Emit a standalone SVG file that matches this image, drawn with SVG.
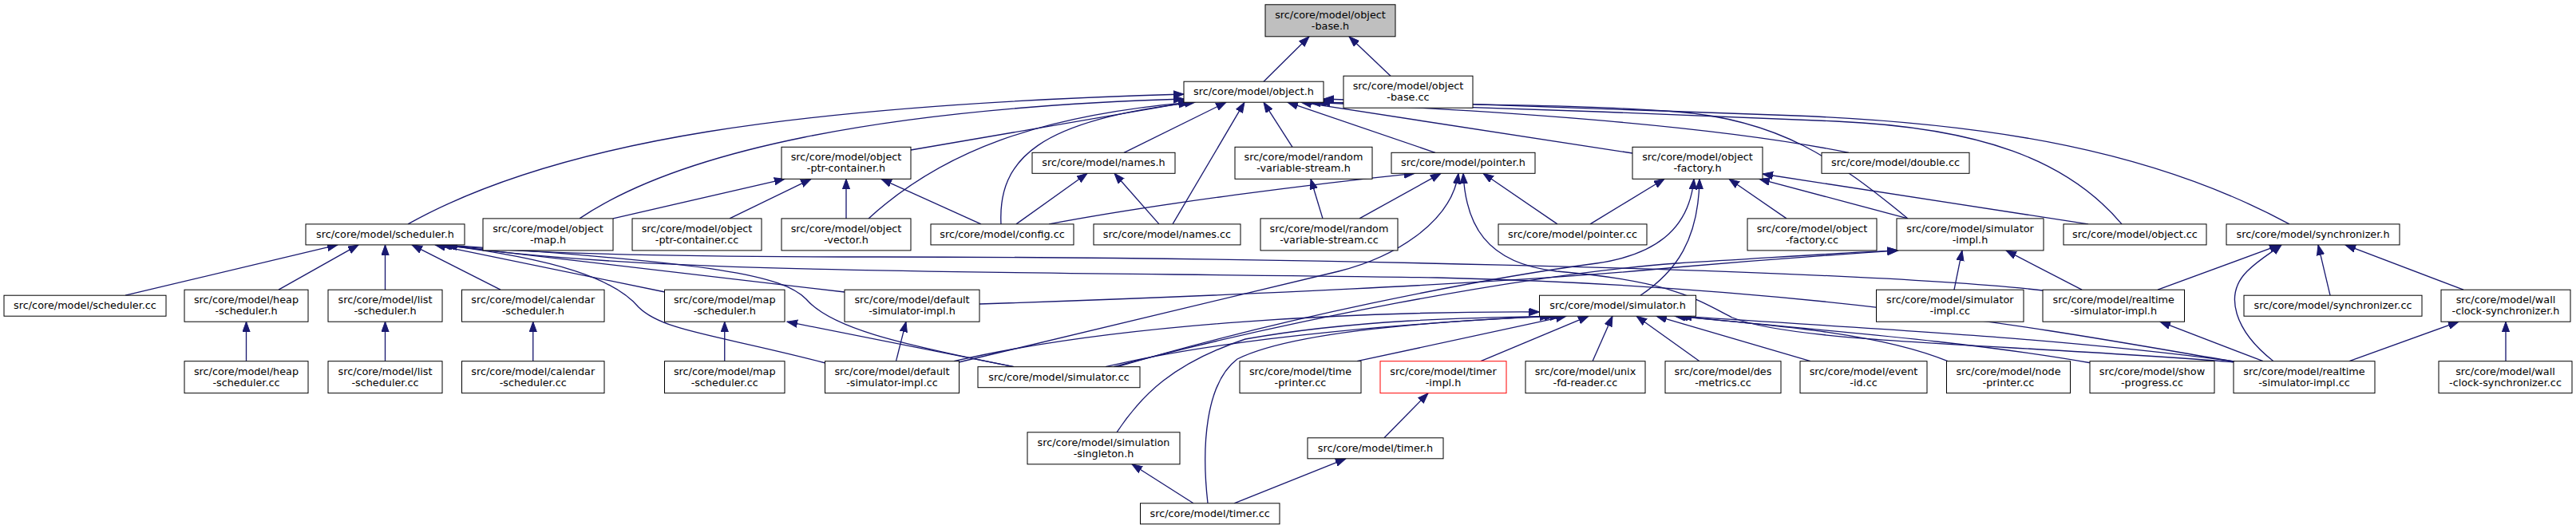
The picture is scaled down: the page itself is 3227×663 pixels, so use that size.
<svg xmlns="http://www.w3.org/2000/svg" width="3227" height="663" viewBox="0 0 3227 663">
<defs>
<style>
.n rect{fill:#ffffff;stroke:#000000;stroke-width:1}
.n text{font-family:"DejaVu Sans","Liberation Sans",sans-serif;font-size:12.8px;text-anchor:middle;fill:#000000}
.root rect{fill:#bfbfbf}
.trunc rect{stroke:#ff0000}
.e path{fill:none;stroke:#191970;stroke-width:1.33;marker-end:url(#ah)}
</style>
<marker id="ah" markerUnits="userSpaceOnUse" markerWidth="15" markerHeight="11" refX="13" refY="5" orient="auto">
<path d="M0,0.3 L13,5 L0,9.7 z" fill="#191970" stroke="#191970" stroke-width="1"/>
</marker>
</defs>
<rect x="0" y="0" width="3227" height="663" fill="#ffffff"/>
<g id="edges" class="e">
<path d="M1583,102.2 L1640,45.8"/>
<path d="M1742,95.2 L1690,45.8"/>
<path d="M511,280.9 C700,175 1000,132 1483,118"/>
<path d="M726,273.9 C850,190 1100,136 1483,124"/>
<path d="M1141,188 L1489,128.2"/>
<path d="M1088,273.9 C1180,190 1300,145 1492,128.2"/>
<path d="M1254,280.9 C1250,200 1300,150 1497,128.2"/>
<path d="M1408,191.3 L1536,128.2"/>
<path d="M1469,280.9 L1559,128.2"/>
<path d="M1619,184.3 L1583,128.2"/>
<path d="M1798,191.3 L1613,128.2"/>
<path d="M2045,192 L1630,128.2"/>
<path d="M2316,191.3 C2150,158 1900,140 1641,128.2"/>
<path d="M2390,273.9 C2300,200 2230,150 2100,140 S1750,130 1648,128.2"/>
<path d="M2658,280.9 C2590,200 2480,160 2300,152 S1800,132 1653,128.2"/>
<path d="M2868,280.9 C2700,190 2500,155 2250,145 S1800,128 1658,124"/>
<path d="M768,273.9 L983,224.3"/>
<path d="M914,273.9 L1016,224.3"/>
<path d="M1060,273.9 L1060,224.3"/>
<path d="M1229,280.9 L1104,224.3"/>
<path d="M1273,280.9 L1362,217.3"/>
<path d="M1452,280.9 L1396,217.3"/>
<path d="M1657,273.9 L1642,224.3"/>
<path d="M1314,280.9 C1450,255 1650,230 1772,217.3"/>
<path d="M1703,273.9 L1805,217.3"/>
<path d="M1951,280.9 L1858,217.3"/>
<path d="M1201,454 L1677,340 C1745,323 1818,280 1827,217.3"/>
<path d="M2800,454 C2500,430 2250,430 2170,398 C2120,372 2090,352 1950,340 C1860,330 1836,280 1833,217.3"/>
<path d="M1992,280.9 L2085,224.3"/>
<path d="M2238,273.9 L2166,224.3"/>
<path d="M2390,273.9 L2204,224.3"/>
<path d="M2616,280.9 L2208,218"/>
<path d="M2055,370.2 C2100,340 2128,300 2129,224.3"/>
<path d="M1400,459.7 C1600,400 1850,350 2000,330 C2070,320 2116,290 2122,224.3"/>
<path d="M157,370.2 L423,306.9"/>
<path d="M349,363.2 L449,306.9"/>
<path d="M482.5,363.2 L482.5,306.9"/>
<path d="M627,363.2 L516,306.9"/>
<path d="M833,366 L545,306.9"/>
<path d="M1058,366 L552,306.9"/>
<path d="M1270,459.7 C1120,430 1040,410 1010,375 C980,345 900,330 556,306.9"/>
<path d="M1034,455 C900,420 830,415 800,385 C770,350 700,325 554,306.9"/>
<path d="M2559,364 C2300,335 1500,322 1100,322 C850,322 650,318 558,306.9"/>
<path d="M2798,453 C2600,420 2300,360 1800,348 C1300,340 800,345 560,306.9"/>
<path d="M308.5,452.7 L308.5,403.2"/>
<path d="M482.5,452.7 L482.5,403.2"/>
<path d="M667.75,452.7 L667.75,403.2"/>
<path d="M907.75,452.7 L907.75,403.2"/>
<path d="M1270,459.7 L986,403.2"/>
<path d="M1122.5,452.7 L1135,403.2"/>
<path d="M1227,381 C1500,372 1900,355 2100,335 C2250,322 2320,318 2378,313.9"/>
<path d="M1395,459.7 C1600,405 1900,345 2100,330 C2250,321 2320,316 2377,313.9"/>
<path d="M2448,363.2 L2458,313.9"/>
<path d="M2608,363.2 L2513,313.9"/>
<path d="M2703,363.2 L2856,306.9"/>
<path d="M2848,452.7 C2800,415 2785,370 2815,340 C2830,325 2848,315 2858,306.9"/>
<path d="M2919,370.2 L2904,306.9"/>
<path d="M3086,363.2 L2938,306.9"/>
<path d="M2835,452.7 L2706,403.2"/>
<path d="M2943,452.7 L3080,403.2"/>
<path d="M3139,452.7 L3139,403.2"/>
<path d="M1195,452.7 C1400,405 1700,390 1928.5,391"/>
<path d="M1385,459.7 C1550,420 1800,403 1942,396.2"/>
<path d="M1700,452.7 L1962,396.2"/>
<path d="M1399,541.8 C1430,495 1470,455 1560,425 C1700,400 1850,398 1948,396.2"/>
<path d="M1513,630.8 C1505,560 1510,480 1550,450 C1620,415 1800,402 1955,396.2"/>
<path d="M1855,452.7 L1990,396.2"/>
<path d="M1995,452.7 L2020,396.2"/>
<path d="M2129,452.7 L2050,396.2"/>
<path d="M2268,452.7 L2075,396.2"/>
<path d="M2440,452.7 C2360,420 2250,410 2098,396.2"/>
<path d="M2620,455 C2450,425 2250,412 2102,396.2"/>
<path d="M2800,453 C2550,420 2300,410 2106,396.2"/>
<path d="M1495,630.8 L1418,581.8"/>
<path d="M1546,630.8 L1686,574.8"/>
<path d="M1734,548.8 L1789,492.7"/>
</g>
<g id="n_object_base_h" class="n root"><rect x="1585" y="5.8" width="163" height="40"/><text x="1666.5" y="22.6">src/core/model/object</text><text x="1666.5" y="36.8">-base.h</text></g>
<g id="n_object_h" class="n"><rect x="1483" y="102.2" width="175" height="26"/><text x="1570.5" y="119.2">src/core/model/object.h</text></g>
<g id="n_object_base_cc" class="n"><rect x="1683" y="95.2" width="162" height="40"/><text x="1764" y="112">src/core/model/object</text><text x="1764" y="126.2">-base.cc</text></g>
<g id="n_object_ptr_container_h" class="n"><rect x="979" y="184.3" width="162" height="40"/><text x="1060" y="201.1">src/core/model/object</text><text x="1060" y="215.3">-ptr-container.h</text></g>
<g id="n_names_h" class="n"><rect x="1293" y="191.3" width="179" height="26"/><text x="1382.5" y="208.3">src/core/model/names.h</text></g>
<g id="n_random_variable_stream_h" class="n"><rect x="1547" y="184.3" width="172" height="40"/><text x="1633" y="201.1">src/core/model/random</text><text x="1633" y="215.3">-variable-stream.h</text></g>
<g id="n_pointer_h" class="n"><rect x="1743" y="191.3" width="180" height="26"/><text x="1833" y="208.3">src/core/model/pointer.h</text></g>
<g id="n_object_factory_h" class="n"><rect x="2045" y="184.3" width="163" height="40"/><text x="2126.5" y="201.1">src/core/model/object</text><text x="2126.5" y="215.3">-factory.h</text></g>
<g id="n_double_cc" class="n"><rect x="2282" y="191.3" width="185" height="26"/><text x="2374.5" y="208.3">src/core/model/double.cc</text></g>
<g id="n_scheduler_h" class="n"><rect x="383" y="280.9" width="199" height="26"/><text x="482.5" y="297.9">src/core/model/scheduler.h</text></g>
<g id="n_object_map_h" class="n"><rect x="605" y="273.9" width="163" height="40"/><text x="686.5" y="290.7">src/core/model/object</text><text x="686.5" y="304.9">-map.h</text></g>
<g id="n_object_ptr_container_cc" class="n"><rect x="792" y="273.9" width="162" height="40"/><text x="873" y="290.7">src/core/model/object</text><text x="873" y="304.9">-ptr-container.cc</text></g>
<g id="n_object_vector_h" class="n"><rect x="979" y="273.9" width="162" height="40"/><text x="1060" y="290.7">src/core/model/object</text><text x="1060" y="304.9">-vector.h</text></g>
<g id="n_config_cc" class="n"><rect x="1166" y="280.9" width="179" height="26"/><text x="1255.5" y="297.9">src/core/model/config.cc</text></g>
<g id="n_names_cc" class="n"><rect x="1370" y="280.9" width="184" height="26"/><text x="1462" y="297.9">src/core/model/names.cc</text></g>
<g id="n_random_variable_stream_cc" class="n"><rect x="1579" y="273.9" width="172" height="40"/><text x="1665" y="290.7">src/core/model/random</text><text x="1665" y="304.9">-variable-stream.cc</text></g>
<g id="n_pointer_cc" class="n"><rect x="1877" y="280.9" width="186" height="26"/><text x="1970" y="297.9">src/core/model/pointer.cc</text></g>
<g id="n_object_factory_cc" class="n"><rect x="2189" y="273.9" width="162" height="40"/><text x="2270" y="290.7">src/core/model/object</text><text x="2270" y="304.9">-factory.cc</text></g>
<g id="n_simulator_impl_h" class="n"><rect x="2376" y="273.9" width="184" height="40"/><text x="2468" y="290.7">src/core/model/simulator</text><text x="2468" y="304.9">-impl.h</text></g>
<g id="n_object_cc" class="n"><rect x="2585" y="280.9" width="179" height="26"/><text x="2674.5" y="297.9">src/core/model/object.cc</text></g>
<g id="n_synchronizer_h" class="n"><rect x="2789" y="280.9" width="217" height="26"/><text x="2897.5" y="297.9">src/core/model/synchronizer.h</text></g>
<g id="n_scheduler_cc" class="n"><rect x="5" y="370.2" width="203" height="26"/><text x="106.5" y="387.2">src/core/model/scheduler.cc</text></g>
<g id="n_heap_scheduler_h" class="n"><rect x="231" y="363.2" width="155" height="40"/><text x="308.5" y="380">src/core/model/heap</text><text x="308.5" y="394.2">-scheduler.h</text></g>
<g id="n_list_scheduler_h" class="n"><rect x="411" y="363.2" width="143" height="40"/><text x="482.5" y="380">src/core/model/list</text><text x="482.5" y="394.2">-scheduler.h</text></g>
<g id="n_calendar_scheduler_h" class="n"><rect x="578.5" y="363.2" width="178.5" height="40"/><text x="667.75" y="380">src/core/model/calendar</text><text x="667.75" y="394.2">-scheduler.h</text></g>
<g id="n_map_scheduler_h" class="n"><rect x="832.5" y="363.2" width="150.5" height="40"/><text x="907.75" y="380">src/core/model/map</text><text x="907.75" y="394.2">-scheduler.h</text></g>
<g id="n_default_simulator_impl_h" class="n"><rect x="1058" y="363.2" width="169" height="40"/><text x="1142.5" y="380">src/core/model/default</text><text x="1142.5" y="394.2">-simulator-impl.h</text></g>
<g id="n_simulator_h" class="n"><rect x="1928.5" y="370.2" width="196" height="26"/><text x="2026.5" y="387.2">src/core/model/simulator.h</text></g>
<g id="n_simulator_impl_cc" class="n"><rect x="2350.5" y="363.2" width="184.5" height="40"/><text x="2442.75" y="380">src/core/model/simulator</text><text x="2442.75" y="394.2">-impl.cc</text></g>
<g id="n_realtime_simulator_impl_h" class="n"><rect x="2559" y="363.2" width="177.5" height="40"/><text x="2647.75" y="380">src/core/model/realtime</text><text x="2647.75" y="394.2">-simulator-impl.h</text></g>
<g id="n_synchronizer_cc" class="n"><rect x="2811" y="370.2" width="223" height="26"/><text x="2922.5" y="387.2">src/core/model/synchronizer.cc</text></g>
<g id="n_wall_clock_synchronizer_h" class="n"><rect x="3058" y="363.2" width="162" height="40"/><text x="3139" y="380">src/core/model/wall</text><text x="3139" y="394.2">-clock-synchronizer.h</text></g>
<g id="n_heap_scheduler_cc" class="n"><rect x="231" y="452.7" width="155" height="40"/><text x="308.5" y="469.5">src/core/model/heap</text><text x="308.5" y="483.7">-scheduler.cc</text></g>
<g id="n_list_scheduler_cc" class="n"><rect x="411" y="452.7" width="143" height="40"/><text x="482.5" y="469.5">src/core/model/list</text><text x="482.5" y="483.7">-scheduler.cc</text></g>
<g id="n_calendar_scheduler_cc" class="n"><rect x="578.5" y="452.7" width="178.5" height="40"/><text x="667.75" y="469.5">src/core/model/calendar</text><text x="667.75" y="483.7">-scheduler.cc</text></g>
<g id="n_map_scheduler_cc" class="n"><rect x="832.5" y="452.7" width="150.5" height="40"/><text x="907.75" y="469.5">src/core/model/map</text><text x="907.75" y="483.7">-scheduler.cc</text></g>
<g id="n_default_simulator_impl_cc" class="n"><rect x="1033.5" y="452.7" width="168" height="40"/><text x="1117.5" y="469.5">src/core/model/default</text><text x="1117.5" y="483.7">-simulator-impl.cc</text></g>
<g id="n_simulator_cc" class="n"><rect x="1225" y="459.7" width="203" height="26"/><text x="1326.5" y="476.7">src/core/model/simulator.cc</text></g>
<g id="n_time_printer_cc" class="n"><rect x="1553" y="452.7" width="152" height="40"/><text x="1629" y="469.5">src/core/model/time</text><text x="1629" y="483.7">-printer.cc</text></g>
<g id="n_timer_impl_h" class="n trunc"><rect x="1729" y="452.7" width="158" height="40"/><text x="1808" y="469.5">src/core/model/timer</text><text x="1808" y="483.7">-impl.h</text></g>
<g id="n_unix_fd_reader_cc" class="n"><rect x="1911" y="452.7" width="150" height="40"/><text x="1986" y="469.5">src/core/model/unix</text><text x="1986" y="483.7">-fd-reader.cc</text></g>
<g id="n_des_metrics_cc" class="n"><rect x="2086" y="452.7" width="145" height="40"/><text x="2158.5" y="469.5">src/core/model/des</text><text x="2158.5" y="483.7">-metrics.cc</text></g>
<g id="n_event_id_cc" class="n"><rect x="2255" y="452.7" width="159" height="40"/><text x="2334.5" y="469.5">src/core/model/event</text><text x="2334.5" y="483.7">-id.cc</text></g>
<g id="n_node_printer_cc" class="n"><rect x="2438.5" y="452.7" width="155" height="40"/><text x="2516" y="469.5">src/core/model/node</text><text x="2516" y="483.7">-printer.cc</text></g>
<g id="n_show_progress_cc" class="n"><rect x="2618" y="452.7" width="156" height="40"/><text x="2696" y="469.5">src/core/model/show</text><text x="2696" y="483.7">-progress.cc</text></g>
<g id="n_realtime_simulator_impl_cc" class="n"><rect x="2798" y="452.7" width="177" height="40"/><text x="2886.5" y="469.5">src/core/model/realtime</text><text x="2886.5" y="483.7">-simulator-impl.cc</text></g>
<g id="n_wall_clock_synchronizer_cc" class="n"><rect x="3055" y="452.7" width="167" height="40"/><text x="3138.5" y="469.5">src/core/model/wall</text><text x="3138.5" y="483.7">-clock-synchronizer.cc</text></g>
<g id="n_simulation_singleton_h" class="n"><rect x="1287" y="541.8" width="191" height="40"/><text x="1382.5" y="558.6">src/core/model/simulation</text><text x="1382.5" y="572.8">-singleton.h</text></g>
<g id="n_timer_h" class="n"><rect x="1638" y="548.8" width="170" height="26"/><text x="1723" y="565.8">src/core/model/timer.h</text></g>
<g id="n_timer_cc" class="n"><rect x="1428.5" y="630.8" width="174.5" height="26"/><text x="1515.75" y="647.8">src/core/model/timer.cc</text></g>
</svg>
